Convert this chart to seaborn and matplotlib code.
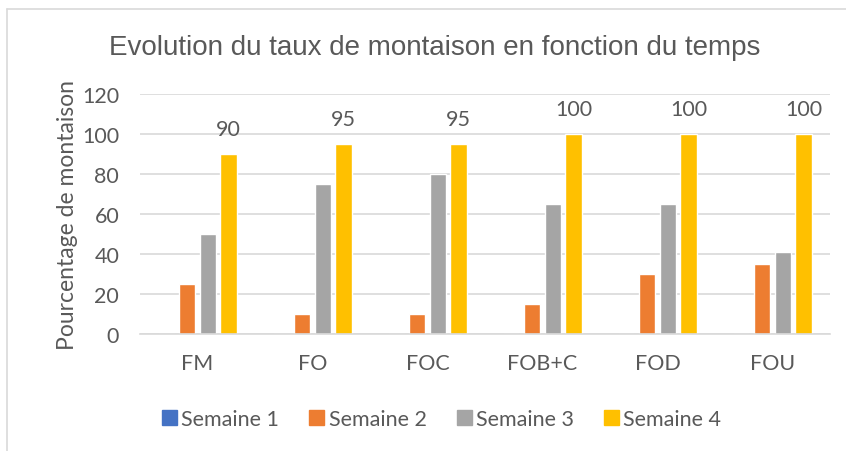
import seaborn as sns
import matplotlib.pyplot as plt
import pandas as pd
from matplotlib.lines import Line2D

# chart values
categories = ["FM", "FO", "FOC", "FOB+C", "FOD", "FOU"]
semaines = ["Semaine 1", "Semaine 2", "Semaine 3", "Semaine 4"]
semaine1 = [0, 0, 0, 0, 0, 0]
semaine2 = [25, 10, 10, 15, 30, 35]
semaine3 = [50, 75, 80, 65, 65, 41]
semaine4 = [90, 95, 95, 100, 100, 100]
colors = ["#4472C4", "#ED7D31", "#A5A5A5", "#FFC000"]

rows = []
for sem, vals in zip(semaines, [semaine1, semaine2, semaine3, semaine4]):
    for cat, v in zip(categories, vals):
        rows.append({"categorie": cat, "semaine": sem, "taux": v})
df = pd.DataFrame(rows)

sns.set_style("white")
plt.rcParams["font.family"] = ["Lato", "DejaVu Sans"]
text_col = "#595959"

fig = plt.figure(figsize=(8.46, 4.52), dpi=100)
ax = fig.add_axes([0.1655, 0.2588, 0.8155, 0.531])

sns.barplot(data=df, x="categorie", y="taux", hue="semaine", palette=colors,
            saturation=1, width=0.72, gap=0.22, ax=ax, legend=True)

# data labels only on Semaine 4
ax.bar_label(ax.containers[3], padding=11, fontsize=15.5, color=text_col)

ax.set_ylim(0, 120)
ax.set_yticks(range(0, 121, 20))
ax.yaxis.grid(True, color="#D9D9D9", linewidth=1.2)
ax.set_axisbelow(True)
for s in ["top", "right", "left"]:
    ax.spines[s].set_visible(False)
ax.spines["bottom"].set_color("#D9D9D9")
ax.spines["bottom"].set_linewidth(1.2)
ax.tick_params(axis="both", length=0, labelsize=15.5, colors=text_col)
ax.tick_params(axis="x", pad=14)
ax.tick_params(axis="y", pad=15)
ax.set_xlabel("")
ax.set_ylabel("Pourcentage de montaison", fontsize=16.5, color=text_col, labelpad=3)

fig.text(0.514, 0.893, "Evolution du taux de montaison en fonction du temps",
         ha="center", va="center", fontsize=20, color=text_col,
         family=["Liberation Sans", "DejaVu Sans"])

ax.legend_.remove()
handles = [plt.Rectangle((0, 0), 1, 1, color=c) for c in colors]
fig.legend(handles, semaines, loc="center", bbox_to_anchor=(0.522, 0.07),
           ncol=4, frameon=False, fontsize=15.5, labelcolor=text_col,
           handlelength=0.7, handleheight=0.7, handletextpad=0.2,
           columnspacing=1.4)

# outer chart border (partly cropped)
fig.add_artist(Line2D([0.008, 1.0], [0.978, 0.978], color="#D9D9D9", lw=1.2))
fig.add_artist(Line2D([0.008, 0.008], [0.0, 0.978], color="#D9D9D9", lw=1.2))

fig.savefig("out.png", dpi=100)
